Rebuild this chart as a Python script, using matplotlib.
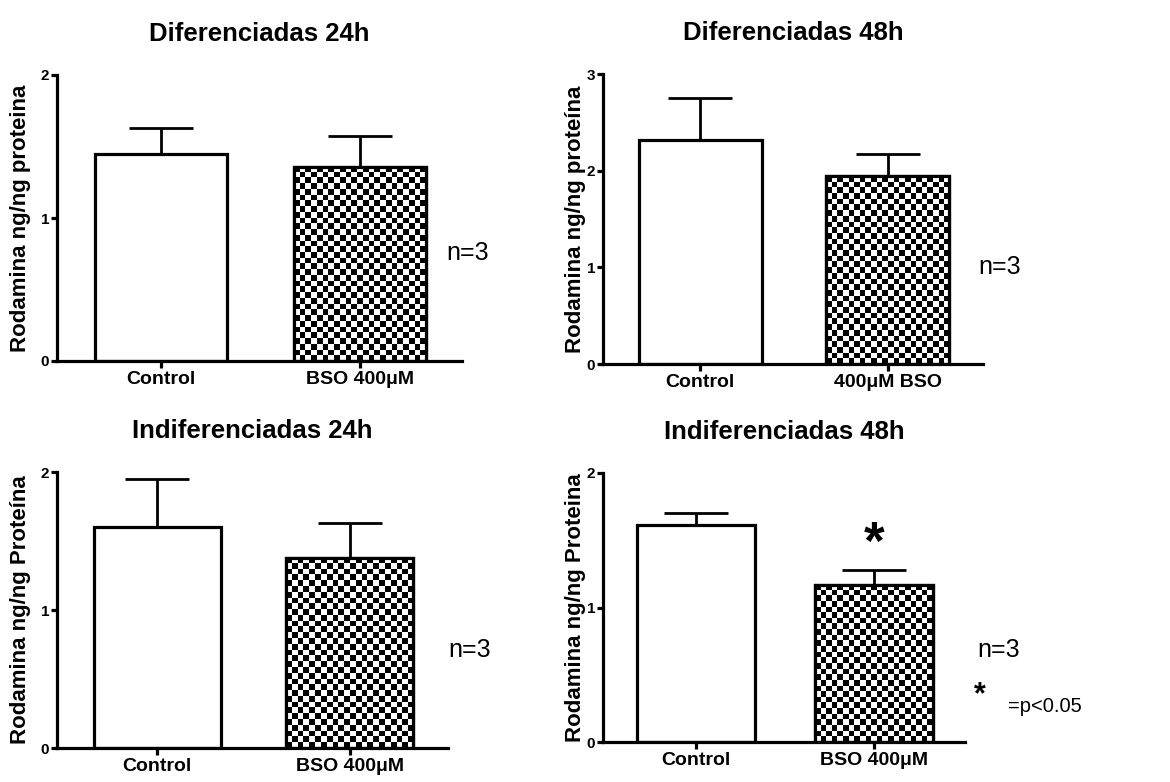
import numpy as np
import matplotlib
matplotlib.use("Agg")
import matplotlib.pyplot as plt

plt.rcParams['font.family'] = ['Liberation Sans', 'DejaVu Sans']

# ---- data ----
titles = ["Diferenciadas 24h", "Diferenciadas 48h", "Indiferenciadas 24h", "Indiferenciadas 48h"]
ylabels = ["Rodamina ng/ng proteina", "Rodamina ng/ng proteína",
           "Rodamina ng/ng Proteína", "Rodamina ng/ng Proteina"]
xlabels_p1 = ["Control", "BSO 400μM"]
xlabels_p2 = ["Control", "400μM BSO"]
xlabels_p3 = ["Control", "BSO 400μM"]
xlabels_p4 = ["Control", "BSO 400μM"]
means_p1 = [1.45, 1.36]
errs_p1 = [0.18, 0.21]
means_p2 = [2.32, 1.94]
errs_p2 = [0.43, 0.23]
means_p3 = [1.60, 1.38]
errs_p3 = [0.35, 0.25]
means_p4 = [1.61, 1.17]
errs_p4 = [0.09, 0.11]
ymax = [2, 3, 2, 2]
n_text = "n=3"
sig_text = "=p<0.05"

W, H, DPI = 1170, 782, 100
fig = plt.figure(figsize=(W / DPI, H / DPI), dpi=DPI)
fig.patch.set_facecolor("white")


def box(l, t, r, b):
    return [l / W, 1 - b / H, (r - l) / W, (b - t) / H]


panels = [
    dict(box=(57, 75, 462, 361), means=means_p1, errs=errs_p1, xl=xlabels_p1),
    dict(box=(603, 74, 983, 364), means=means_p2, errs=errs_p2, xl=xlabels_p2),
    dict(box=(57, 472, 448, 748), means=means_p3, errs=errs_p3, xl=xlabels_p3),
    dict(box=(603, 473, 965, 742), means=means_p4, errs=errs_p4, xl=xlabels_p4),
]
ylabel_x = [21, 575, 21, 575]

LW = 2.3
cell_px = 5.7
axes = []
for i, p in enumerate(panels):
    ax = fig.add_axes(box(*p["box"]))
    axes.append(ax)
    x = np.arange(len(p["means"]))
    ax.set_xlim(-0.52, 1.51)
    ax.set_ylim(0, ymax[i])
    bars = ax.bar(x, p["means"], width=0.66, facecolor="white", edgecolor="black",
                  linewidth=LW, zorder=2)
    ax.errorbar(x, p["means"], yerr=[np.zeros(len(x)), p["errs"]], fmt="none",
                ecolor="black", elinewidth=2.0, capsize=23, capthick=2.0, zorder=1)
    # checkerboard fill for second bar
    b = bars[1]
    x0, w, h = b.get_x(), b.get_width(), b.get_height()
    p0 = ax.transData.transform((x0, 0))
    p1 = ax.transData.transform((x0 + w, h))
    nx = max(1, int(round(abs(p1[0] - p0[0]) / cell_px)))
    ny = max(1, int(round(abs(p1[1] - p0[1]) / cell_px)))
    yy, xx = np.mgrid[0:ny, 0:nx]
    checker = ((xx + yy) % 2).astype(float)
    im = ax.imshow(checker, cmap="gray", vmin=0, vmax=1, extent=(x0, x0 + w, 0, h),
                   interpolation="nearest", aspect="auto", zorder=2.5)
    im.set_clip_path(b)
    ax.bar(x[1:], p["means"][1:], width=0.66, fill=False, edgecolor="black",
           linewidth=LW, zorder=3)

    ax.spines["top"].set_visible(False)
    ax.spines["right"].set_visible(False)
    ax.spines["left"].set_linewidth(LW)
    ax.spines["bottom"].set_linewidth(LW)
    ax.set_yticks(np.arange(0, ymax[i] + 1))
    ax.set_yticklabels([str(v) for v in range(ymax[i] + 1)], fontweight="bold")
    ax.set_xticks(x)
    ax.set_xticklabels(p["xl"], fontweight="bold", fontsize=14)
    ax.tick_params(axis="y", length=4, width=LW, pad=1.5, labelsize=11)
    ax.tick_params(axis="x", length=5, width=LW, pad=2)
    ax.set_title(titles[i], fontweight="bold", fontsize=18.5, pad=24.5)
    ax.set_facecolor("none")

    l, t, r, bb = p["box"]
    fig.text(ylabel_x[i] / W, 1 - (t + bb) / 2 / H, ylabels[i], rotation=90,
             ha="center", va="center", fontweight="bold", fontsize=16)

# annotations
fig.text(468 / W, 1 - 253 / H, n_text, ha="center", va="center", fontsize=18)
fig.text(1000 / W, 1 - 267 / H, n_text, ha="center", va="center", fontsize=18)
fig.text(470 / W, 1 - 650 / H, n_text, ha="center", va="center", fontsize=18)
fig.text(977 / W, 1 - 650 / H, n_text, ha="left", va="center", fontsize=18)
fig.text(980 / W, 1 - 695 / H, "*", ha="center", va="center", fontsize=22, fontweight="bold")
fig.text(1008 / W, 1 - 706 / H, sig_text, ha="left", va="center", fontsize=14.5)

ax4 = axes[3]
ax4.annotate("*", xy=(1, means_p4[1] + errs_p4[1]), xytext=(0, 18),
             textcoords="offset points", ha="center", va="center",
             fontsize=38, fontweight="bold")

fig.savefig("out.png", dpi=DPI)
